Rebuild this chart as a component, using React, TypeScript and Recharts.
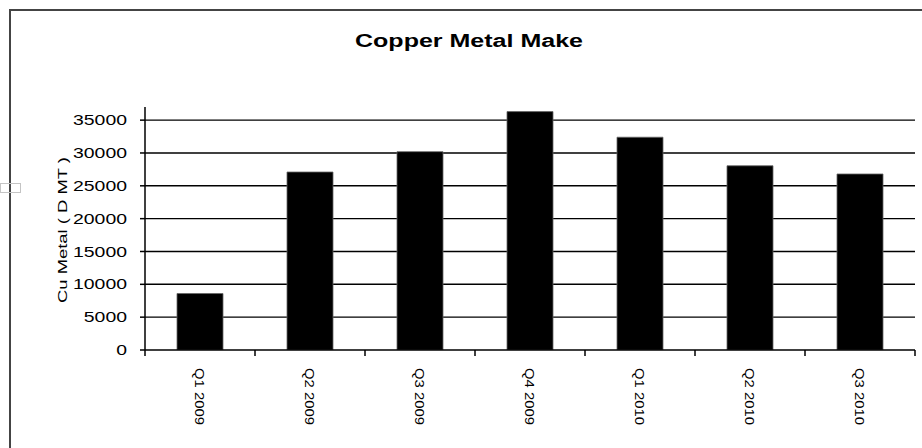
import { Bar, BarChart, CartesianGrid, XAxis, YAxis } from "recharts";

const quarters = ["Q1 2009", "Q2 2009", "Q3 2009", "Q4 2009", "Q1 2010", "Q2 2010", "Q3 2010"];
const copperMake = [8600, 27100, 30200, 36300, 32400, 28050, 26800];
const yTicks = [0, 5000, 10000, 15000, 20000, 25000, 30000, 35000];
const gridLines = [5000, 10000, 15000, 20000, 25000, 30000, 35000];
// category boundaries, where Excel puts the x tick marks
const edgeTicks = [0, 1, 2, 3, 4, 5, 6, 7];

const data = quarters.map((q, i) => ({ quarter: q, value: copperMake[i] }));

const FONT = '"Liberation Sans", Arial, sans-serif';

const YTick = ({ x, y, payload }: any) => {
  const s = String(payload.value);
  const len = s.length * 10.8;
  return (
    <text
      x={x - len}
      y={y}
      dy="0.36em"
      fontSize={14}
      fontFamily={FONT}
      fill="#000"
      textLength={len}
      lengthAdjust="spacingAndGlyphs"
    >
      {s}
    </text>
  );
};

const XTick = ({ x, y, payload }: any) => (
  <text
    transform={`translate(${x},${y}) rotate(90)`}
    dy="0.35em"
    fontSize={13}
    fontFamily={FONT}
    fill="#000"
    textLength={57}
    lengthAdjust="spacingAndGlyphs"
  >
    {payload.value}
  </text>
);

const NoLabel = () => <g />;

const YLabel = () => (
  <text
    transform="translate(62,230) rotate(-90)"
    dy="0.35em"
    textAnchor="middle"
    fontSize={13}
    fontFamily={FONT}
    fill="#000"
    textLength={146}
    lengthAdjust="spacingAndGlyphs"
  >
    Cu Metal ( D MT )
  </text>
);

export default function App() {
  return (
    <div
      style={{
        position: "absolute",
        left: 0,
        top: 0,
        width: 922,
        height: 448,
        overflow: "hidden",
        background: "#fff",
      }}
    >
      <div
        style={{
          position: "absolute",
          left: 9,
          top: 9,
          width: 940,
          height: 470,
          border: "2px solid #444",
        }}
      />
      <div
        style={{
          position: "absolute",
          left: 0,
          top: 183,
          width: 19,
          height: 8,
          border: "1px solid #c4c4c4",
        }}
      />
      <svg width={922} height={60} style={{ position: "absolute", left: 0, top: 0 }}>
        <text
          x={355}
          y={47}
          fontSize={18}
          fontWeight="bold"
          fontFamily={FONT}
          fill="#000"
          textLength={228}
          lengthAdjust="spacingAndGlyphs"
        >
          Copper Metal Make
        </text>
      </svg>
      <div style={{ position: "absolute", left: 0, top: 0 }}>
        <BarChart
          width={922}
          height={448}
          data={data}
          margin={{ top: 107, right: 7, left: 0, bottom: 0 }}
        >
          <CartesianGrid
            xAxisId="b_cat"
            vertical={false}
            horizontalValues={gridLines}
            stroke="#000"
            strokeWidth={1.4}
          />
          <XAxis
            xAxisId="b_cat"
            dataKey="quarter"
            type="category"
            height={97}
            axisLine={false}
            tickLine={false}
            tickSize={0}
            tickMargin={17}
            interval={0}
            tick={<XTick />}
          />
          <XAxis
            xAxisId="a_edge"
            type="number"
            scale="linear"
            dataKey={() => 0}
            domain={[0, 7]}
            allowDataOverflow
            ticks={edgeTicks}
            interval={0}
            tick={<NoLabel />}
            height={1}
            tickSize={6}
            axisLine={{ stroke: "#000", strokeWidth: 1.5 }}
            tickLine={{ stroke: "#000", strokeWidth: 1.5 }}
          />
          <YAxis
            width={145}
            domain={[0, 37000]}
            ticks={yTicks}
            allowDataOverflow
            tickSize={5}
            tickMargin={13}
            axisLine={{ stroke: "#000", strokeWidth: 1.5 }}
            tickLine={{ stroke: "#000", strokeWidth: 1.5 }}
            tick={<YTick />}
            label={<YLabel />}
          />
          <Bar
            xAxisId="b_cat"
            dataKey="value"
            fill="#000"
            stroke="#666"
            strokeWidth={0.8}
            barSize={46}
            isAnimationActive={false}
          />
        </BarChart>
      </div>
    </div>
  );
}
